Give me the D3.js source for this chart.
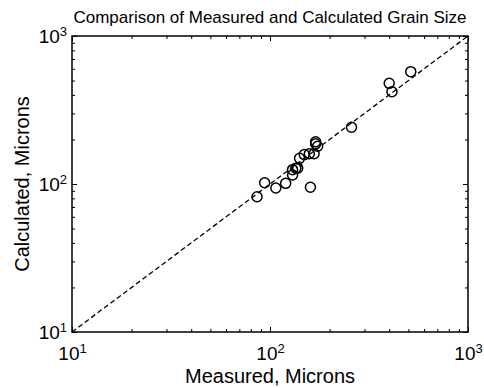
<!DOCTYPE html>
<html lang="en">
<head>
  <meta charset="UTF-8">
  <title>Comparison of Measured and Calculated Grain Size</title>
  <script src="https://d3js.org/d3.v7.min.js"></script>
  <style>
    body { margin: 0; padding: 0; background: #fff; }
    svg { display: block; font-family: "Liberation Sans", Arial, sans-serif; }
    .axis path { stroke: none; }
    .axis line { stroke: #000; stroke-width: 1; }
    .axis text { fill: #000; font-size: 19px; }
  </style>
</head>
<body>
  <div id="chart"></div>
  <script>
    // measured vs calculated grain size, microns
    const measured   = [86, 94, 107, 120, 130, 130, 135, 138, 141, 149, 158, 167, 160, 170, 170, 174, 258, 400, 413, 514];
    const calculated = [82, 102, 94, 101, 115, 125, 128, 128, 149, 158, 160, 160, 95, 193, 187, 180, 242, 479, 420, 574];
    const majorTicks = [10, 100, 1000];
    const minorTicks = [20, 30, 40, 50, 60, 70, 80, 90, 200, 300, 400, 500, 600, 700, 800, 900];
    const refLine = [10, 1000];

    const W = 484, H = 388;
    const margin = { top: 36, right: 16, bottom: 56, left: 72 };
    const width = W - margin.left - margin.right;
    const height = H - margin.top - margin.bottom;

    const svg = d3.select("#chart").append("svg")
      .attr("width", W).attr("height", H);

    const g = svg.append("g")
      .attr("transform", `translate(${margin.left},${margin.top})`);

    const x = d3.scaleLog().domain([10, 1000]).range([0, width]);
    const y = d3.scaleLog().domain([10, 1000]).range([height, 0]);

    function supLabels(sel) {
      sel.selectAll(".tick text").each(function (d) {
        const t = d3.select(this);
        t.text(null);
        t.append("tspan").text("10");
        t.append("tspan").attr("dy", "-0.55em").attr("font-size", "13px").text(Math.round(Math.log10(d)));
      });
    }

    // bottom axis
    g.append("g").attr("class", "axis")
      .attr("transform", `translate(0,${height})`)
      .call(d3.axisBottom(x).tickValues(minorTicks).tickSize(-3).tickFormat(""));
    g.append("g").attr("class", "axis")
      .attr("transform", `translate(0,${height})`)
      .call(d3.axisBottom(x).tickValues(majorTicks).tickSize(-5).tickPadding(0))
      .call(supLabels)
      .selectAll(".tick text").attr("y", 28).attr("dy", 0);

    // top axis
    g.append("g").attr("class", "axis")
      .call(d3.axisTop(x).tickValues(minorTicks).tickSize(-3).tickFormat(""));
    g.append("g").attr("class", "axis")
      .call(d3.axisTop(x).tickValues(majorTicks).tickSize(-5).tickFormat(""));

    // left axis
    g.append("g").attr("class", "axis")
      .call(d3.axisLeft(y).tickValues(minorTicks).tickSize(-3).tickFormat(""));
    g.append("g").attr("class", "axis")
      .call(d3.axisLeft(y).tickValues(majorTicks).tickSize(-5).tickPadding(0))
      .call(supLabels)
      .selectAll(".tick text").attr("x", -5).attr("dy", "0.36em");

    // right axis
    g.append("g").attr("class", "axis")
      .attr("transform", `translate(${width},0)`)
      .call(d3.axisRight(y).tickValues(minorTicks).tickSize(-3).tickFormat(""));
    g.append("g").attr("class", "axis")
      .attr("transform", `translate(${width},0)`)
      .call(d3.axisRight(y).tickValues(majorTicks).tickSize(-5).tickFormat(""));

    // frame
    g.append("rect")
      .attr("width", width).attr("height", height)
      .attr("fill", "none").attr("stroke", "#000").attr("stroke-width", 1.5);

    // 1:1 line
    g.append("line")
      .attr("x1", x(refLine[0])).attr("y1", y(refLine[0]))
      .attr("x2", x(refLine[1])).attr("y2", y(refLine[1]))
      .attr("stroke", "#000").attr("stroke-width", 1.3)
      .attr("stroke-dasharray", "5,3");

    // data points
    g.selectAll(".pt")
      .data(measured.map((m, i) => [m, calculated[i]]))
      .enter().append("circle")
      .attr("class", "pt")
      .attr("cx", d => x(d[0]))
      .attr("cy", d => y(d[1]))
      .attr("r", 5)
      .attr("fill", "none")
      .attr("stroke", "#000")
      .attr("stroke-width", 1.5);

    // titles
    svg.append("text")
      .attr("x", margin.left + width / 2).attr("y", 23)
      .attr("text-anchor", "middle")
      .attr("font-size", "17px")
      .text("Comparison of Measured and Calculated Grain Size");

    svg.append("text")
      .attr("x", margin.left + width / 2).attr("y", 383)
      .attr("text-anchor", "middle")
      .attr("font-size", "20px")
      .text("Measured, Microns");

    svg.append("text")
      .attr("transform", `translate(29,${margin.top + height / 2}) rotate(-90)`)
      .attr("text-anchor", "middle")
      .attr("font-size", "20px")
      .text("Calculated, Microns");
  </script>
</body>
</html>
